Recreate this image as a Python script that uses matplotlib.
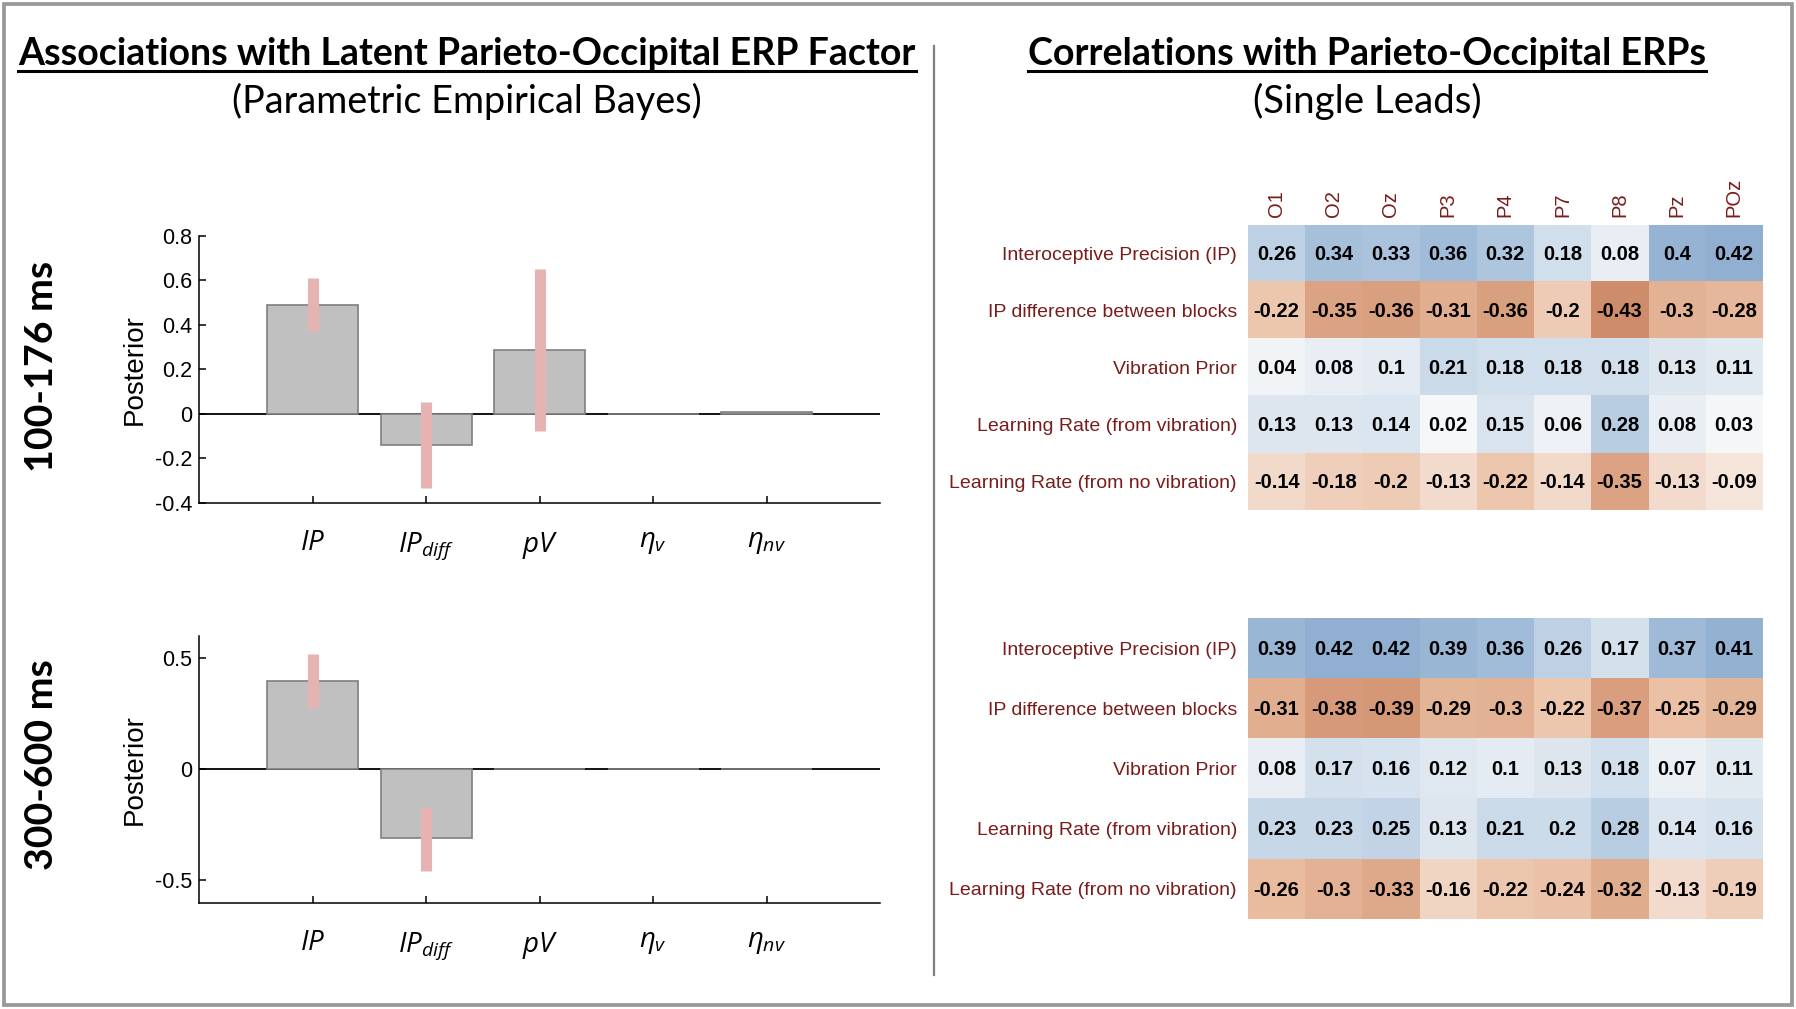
import numpy as np
import matplotlib
matplotlib.use('Agg')
import matplotlib.pyplot as plt
from matplotlib import font_manager
from matplotlib.colors import LinearSegmentedColormap
from matplotlib.lines import Line2D
from matplotlib.patches import Rectangle

# -------------------------------
# Data
# -------------------------------
param_labels = [r'$\mathit{IP}$', r'$\mathit{IP}_{\mathit{diff}}$', r'$\mathit{pV}$',
                r'$\eta_{\mathit{v}}$', r'$\eta_{\mathit{nv}}$']

# PEB posteriors, 100-176 ms
early_post = [0.49, -0.14, 0.285, 0.0, 0.006]
early_lo = [0.373, -0.335, -0.079, np.nan, np.nan]
early_hi = [0.611, 0.054, 0.652, np.nan, np.nan]

# PEB posteriors, 300-600 ms
late_post = [0.395, -0.311, 0.0, 0.0, 0.0]
late_lo = [0.273, -0.457, np.nan, np.nan, np.nan]
late_hi = [0.518, -0.169, np.nan, np.nan, np.nan]

leads = ['O1', 'O2', 'Oz', 'P3', 'P4', 'P7', 'P8', 'Pz', 'POz']
measures = ['Interoceptive Precision (IP)', 'IP difference between blocks',
            'Vibration Prior', 'Learning Rate (from vibration)',
            'Learning Rate (from no vibration)']

early_r = [[0.26, 0.34, 0.33, 0.36, 0.32, 0.18, 0.08, 0.4, 0.42],
           [-0.22, -0.35, -0.36, -0.31, -0.36, -0.2, -0.43, -0.3, -0.28],
           [0.04, 0.08, 0.1, 0.21, 0.18, 0.18, 0.18, 0.13, 0.11],
           [0.13, 0.13, 0.14, 0.02, 0.15, 0.06, 0.28, 0.08, 0.03],
           [-0.14, -0.18, -0.2, -0.13, -0.22, -0.14, -0.35, -0.13, -0.09]]

late_r = [[0.39, 0.42, 0.42, 0.39, 0.36, 0.26, 0.17, 0.37, 0.41],
          [-0.31, -0.38, -0.39, -0.29, -0.3, -0.22, -0.37, -0.25, -0.29],
          [0.08, 0.17, 0.16, 0.12, 0.1, 0.13, 0.18, 0.07, 0.11],
          [0.23, 0.23, 0.25, 0.13, 0.21, 0.2, 0.28, 0.14, 0.16],
          [-0.26, -0.3, -0.33, -0.16, -0.22, -0.24, -0.32, -0.13, -0.19]]

# -------------------------------
# Style
# -------------------------------
available = {f.name for f in font_manager.fontManager.ttflist}
title_font = 'Lato' if 'Lato' in available else 'DejaVu Sans'
arial = 'Liberation Sans' if 'Liberation Sans' in available else 'DejaVu Sans'
if 'Liberation Sans Narrow' in available:
    cell_font, cell_size = 'Liberation Sans Narrow', 16.5
else:
    cell_font, cell_size = arial, 14.5

plt.rcParams['font.family'] = [arial, 'DejaVu Sans']
plt.rcParams['axes.unicode_minus'] = False
plt.rcParams['mathtext.fontset'] = 'custom'
plt.rcParams['mathtext.it'] = 'Open Sans:italic'
plt.rcParams['mathtext.rm'] = 'Open Sans'

W, H = 1796, 1009
fig = plt.figure(figsize=(W / 100, H / 100), dpi=100)
maroon = '#7a1c1c'

cmap = LinearSegmentedColormap.from_list(
    'corr', [(0.0, '#c47a55'), (0.25, '#ebc0a4'), (0.5, '#fbfbfb'),
             (0.75, '#c2d4e6'), (1.0, '#7a9fc8')])


def px_axes(l, t, r, b):
    return fig.add_axes([l / W, 1 - b / H, (r - l) / W, (b - t) / H])


def fit_width(txt, target, vertical=False):
    rend = fig.canvas.get_renderer()
    bb = txt.get_window_extent(rend)
    w = bb.height if vertical else bb.width
    txt.set_fontsize(txt.get_fontsize() * target / w)
    return txt


def titled(x, y, s, width, y_line=None):
    t = fig.text(x / W, 1 - y / H, s, ha='center', va='baseline',
                 fontsize=28, fontweight='bold' if y_line else 'normal',
                 family=[title_font, 'DejaVu Sans'])
    fit_width(t, width)
    if y_line is not None:
        bb = t.get_window_extent(fig.canvas.get_renderer())
        fig.add_artist(Line2D([bb.x0 / W, bb.x1 / W], [1 - y_line / H] * 2,
                              color='black', lw=2.2, transform=fig.transFigure))


# -------------------------------
# Bar charts (left)
# -------------------------------
def bar_panel(ax, post, lo, hi, ylim, yticks):
    x = np.arange(1, len(post) + 1)
    ax.axhline(0, color='black', lw=1.3, zorder=1)
    ax.bar(x, post, 0.8, color='#c0c0c0', edgecolor='#7f7f7f', lw=1.2, zorder=2)
    ax.vlines(x, lo, hi, colors='#e6b3b3', lw=8, zorder=3)
    ax.set_xlim(0, 6)
    ax.set_ylim(*ylim)
    ax.set_yticks(yticks)
    ax.set_yticklabels([f'{v:g}' for v in yticks], fontsize=15.5)
    ax.set_xticks(x)
    ax.set_xticklabels(param_labels, fontsize=20)
    ax.tick_params(direction='in', length=5, width=1.1, pad=5)
    ax.tick_params(axis='x', pad=20)
    for side in ('top', 'right'):
        ax.spines[side].set_visible(False)
    for side in ('left', 'bottom'):
        ax.spines[side].set_linewidth(1.1)
    ax.set_ylabel('Posterior', fontsize=20)
    ax.yaxis.set_label_coords((148 - 199) / 681.5, 0.5)


ax1 = px_axes(199, 235.7, 880.5, 502.7)
bar_panel(ax1, early_post, early_lo, early_hi, (-0.4, 0.8), [-0.4, -0.2, 0, 0.2, 0.4, 0.6, 0.8])
ax2 = px_axes(199, 635.7, 880.5, 902.7)
bar_panel(ax2, late_post, late_lo, late_hi, (-0.6, 0.6), [-0.5, 0, 0.5])

# -------------------------------
# Heatmaps (right)
# -------------------------------
def heat_panel(ax, r, show_leads):
    r = np.array(r)
    ax.imshow(r, cmap=cmap, vmin=-0.5, vmax=0.5, aspect='auto')
    for i in range(r.shape[0]):
        for j in range(r.shape[1]):
            ax.text(j, i + 0.02, f'{r[i, j]:g}', ha='center', va='center',
                    fontsize=cell_size, fontweight='bold', color='black',
                    family=[cell_font, 'DejaVu Sans'])
    ax.set_yticks(range(len(measures)))
    ax.set_yticklabels(measures, fontsize=14, color=maroon)
    ax.set_xticks(range(len(leads)))
    if show_leads:
        ax.set_xticklabels(leads, rotation=90, fontsize=14.5, color=maroon)
        ax.xaxis.tick_top()
    else:
        ax.set_xticklabels([])
    ax.tick_params(length=0, pad=8)
    ax.tick_params(axis='x', pad=5.5)
    for s in ax.spines.values():
        s.set_visible(False)


ax3 = px_axes(1248, 224.5, 1762.5, 510)
heat_panel(ax3, early_r, True)
ax4 = px_axes(1248, 618, 1762.5, 919)
heat_panel(ax4, late_r, False)

# -------------------------------
# Titles, row labels, frame
# -------------------------------
fig.canvas.draw()
titled(467, 65, 'Associations with Latent Parieto-Occipital ERP Factor', 899, y_line=71)
titled(467, 113, '(Parametric Empirical Bayes)', 470)
titled(1367, 65, 'Correlations with Parieto-Occipital ERPs', 680, y_line=71)
titled(1367, 113, '(Single Leads)', 228)

for label, yc in [('100-176 ms', 366), ('300-600 ms', 765)]:
    t = fig.text(42 / W, 1 - yc / H, label, rotation=90, ha='center', va='center',
                 fontsize=28, fontweight='bold', family=[title_font, 'DejaVu Sans'])
    fit_width(t, 211, vertical=True)

fig.add_artist(Line2D([934 / W] * 2, [1 - 46 / H, 1 - 975 / H], color='#808080',
                      lw=1.6, transform=fig.transFigure))
fig.add_artist(Rectangle((3.8 / W, 3.8 / H), 1 - 7.6 / W, 1 - 7.6 / H, fill=False,
                         edgecolor='#999999', lw=2.7, transform=fig.transFigure))

fig.savefig('out.png', dpi=100)
